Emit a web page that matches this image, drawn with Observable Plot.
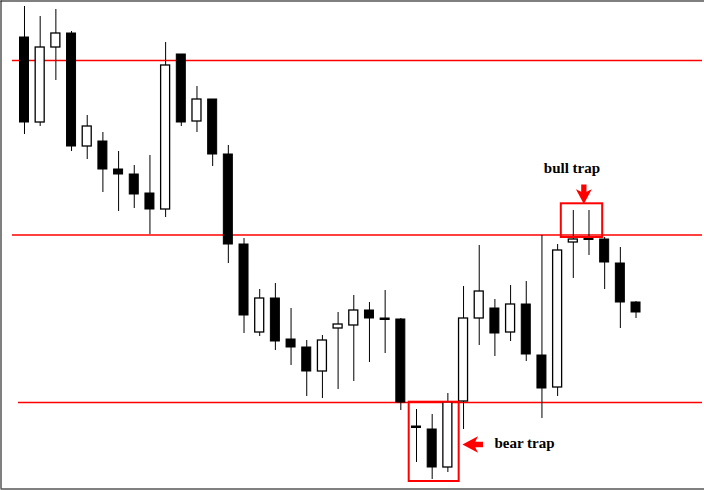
<!DOCTYPE html>
<html><head><meta charset="utf-8">
<script src="https://cdn.jsdelivr.net/npm/d3@7"></script>
<script src="https://cdn.jsdelivr.net/npm/@observablehq/plot@0.6"></script>
<style>body{margin:0;background:#fff} svg{display:block;background:#fff}</style>
</head><body><div id="chart"></div>
<script>
// OHLC values (arbitrary price units)
const opens  = [453,368,443,457,344,349,321,316,297,281,436,369,391,336,246,158,192,151,143,119,162,165,180,172,171,64,61,23,89,172,182,158,186,135,103,248,252,251,227,188];
const highs  = [484,474,481,459,375,358,339,325,335,448,436,404,391,345,252,201,207,182,150,155,178,195,188,200,172,81,76,97,204,245,191,205,209,255,246,280,280,253,243,189];
const lows   = [356,364,410,339,331,298,279,282,256,273,364,358,324,227,157,154,140,125,94,92,101,109,128,137,80,28,11,18,61,145,134,149,129,72,94,212,235,201,162,172];
const closes = [368,443,457,344,364,321,316,296,281,425,368,391,336,246,175,192,149,143,119,150,166,180,172,170.5,88,62.5,23,88,172,199,157,186,136,102,240,251,250.5,228,188,178];
// Support / resistance levels
const levels = [430, 255.5, 88];
// Trap annotations: label and candle indices
const bullTrap = {label: "bull trap", candles: [35, 36]};
const bearTrap = {label: "bear trap", candles: [25, 26, 27]};

const data = opens.map((o, i) => ({i, open: o, high: highs[i], low: lows[i], close: closes[i]}));
const hw = 0.287;
const xDomain = [-1.4987, 43.367];
const yDomain = [1.5, 489.5];

const notchedArrow = {
  draw(ctx, size) {
    const k = Math.sqrt(size / Math.PI) / 9;
    const pts = [[0,9],[-7.5,-5],[-2.5,-2.5],[-2.5,-9.5],[2.5,-9.5],[2.5,-2.5],[7.5,-5]];
    ctx.moveTo(pts[0][0]*k, pts[0][1]*k);
    for (const [x, y] of pts.slice(1)) ctx.lineTo(x*k, y*k);
    ctx.closePath();
  }
};

const bullC = bullTrap.candles.map(i => data[i]);
const bearC = bearTrap.candles.map(i => data[i]);
const bullBox = {x1: bullTrap.candles[0], x2: bullTrap.candles[bullTrap.candles.length-1], y1: levels[1], y2: d3.max(bullC, d => d.high)};
const bearBox = {x1: bearTrap.candles[0], x2: bearTrap.candles[bearTrap.candles.length-1], y1: d3.min(bearC, d => d.low), y2: levels[2]};
const bullMid = (bullBox.x1 + bullBox.x2) / 2;
const bearMidY = (bearBox.y1 + bearBox.y2) / 2;

const red = "#ff0000";
const font = "Liberation Serif, Times New Roman, serif";

const chart = Plot.plot({
  width: 704,
  height: 490,
  marginLeft: 0.5,
  marginRight: 0,
  marginTop: 0.5,
  marginBottom: 1.5,
  x: {domain: xDomain, axis: null},
  y: {domain: yDomain, axis: null},
  style: {background: "#fff"},
  marks: [
    // border on left, top and bottom
    Plot.ruleX([xDomain[0]], {stroke: "black", strokeWidth: 1}),
    Plot.ruleY([yDomain[1], yDomain[0]], {stroke: "black", strokeWidth: 1}),
    Plot.ruleY(levels.slice(0, 2), {x1: -0.765, x2: 43.24, stroke: red, strokeWidth: 1.3}),
    Plot.ruleY(levels.slice(2), {x1: -0.383, x2: 43.24, stroke: red, strokeWidth: 1.3}),
    Plot.ruleX(data, {x: "i", y1: "low", y2: "high", stroke: "black", strokeWidth: 1}),
    Plot.rect(data, {filter: d => d.close <= d.open, x1: d => d.i - hw, x2: d => d.i + hw, y1: "open", y2: "close", fill: "black", stroke: "black", strokeWidth: 1}),
    Plot.rect(data, {filter: d => d.close > d.open, x1: d => d.i - hw, x2: d => d.i + hw, y1: "open", y2: "close", fill: "white", stroke: "black", strokeWidth: 1.3}),
    // bull trap box, arrow, label
    Plot.rect([bullBox], {x1: "x1", x2: "x2", y1: "y1", y2: "y2", fill: "none", stroke: red, strokeWidth: 2,
      insetLeft: -12, insetRight: -13.7, insetTop: -6.7, insetBottom: -2.5}),
    Plot.dot([bullBox], {x: () => bullMid, y: "y2", dx: 2.7, dy: -16, r: 9.5, symbol: notchedArrow, fill: red, stroke: "none"}),
    Plot.text([bullTrap], {x: () => bullBox.x1, y: () => bullBox.y2, text: "label", dx: -29.5, dy: -37.3,
      textAnchor: "start", lineAnchor: "bottom", fontFamily: font, fontWeight: "bold", fontSize: 15, fill: "#000"}),
    // bear trap box, arrow, label
    Plot.rect([bearBox], {x1: "x1", x2: "x2", y1: "y1", y2: "y2", fill: "none", stroke: red, strokeWidth: 2,
      insetLeft: -7.3, insetRight: -11.3, insetTop: -0.3, insetBottom: -2}),
    Plot.dot([bearBox], {x: "x2", y: () => bearMidY, dx: 24.6, dy: 3.5, r: 10, rotate: 90, symbol: notchedArrow, fill: red, stroke: "none"}),
    Plot.text([bearTrap], {x: () => bearBox.x2, y: () => bearMidY, text: "label", dx: 46.6, dy: 6.5,
      textAnchor: "start", lineAnchor: "bottom", fontFamily: font, fontWeight: "bold", fontSize: 15, fill: "#000"})
  ]
});
document.getElementById("chart").appendChild(chart);
</script>
</body></html>
